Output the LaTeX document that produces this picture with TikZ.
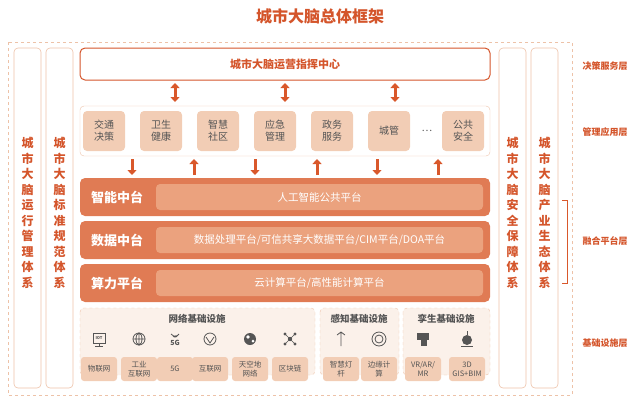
\documentclass[tikz,border=0pt]{standalone}
\usepackage{fontspec}
\setmainfont{Noto Sans CJK SC}
\begin{document}
\begin{tikzpicture}[x=1pt,y=-1pt,
  every node/.style={inner sep=0pt,align=center},
  tcol/.style={text=ora,font=\bfseries},
  colbox/.style={draw=bord,line width=0.6pt,rounded corners=4pt},
  appitem/.style={fill=appf,rounded corners=4pt,minimum width=42pt,minimum height=40pt,font=\fontsize{10}{12}\selectfont,text=gtext},
  band/.style={fill=bandc,rounded corners=5pt},
  inner/.style={fill=innc,rounded corners=4pt,text=white,font=\fontsize{10.5}{12}\selectfont},
  panel/.style={draw=bord,dashed,fill=panf,rounded corners=4pt},
  lab/.style={fill=appf,rounded corners=3pt,minimum width=36pt,minimum height=24pt,font=\fontsize{7.5}{9}\selectfont,text=gtext},
  ico/.style={draw=gtext,line width=0.8pt},
  barr/.style={line width=3pt,draw=arrc,-{Triangle[length=5pt,width=9pt]}},
  darr/.style={line width=3pt,draw=arrc,{Triangle[length=5pt,width=9pt]}-{Triangle[length=5pt,width=9pt]}}]
\definecolor{ora}{HTML}{D4552B}
\definecolor{bord}{HTML}{EDC2A8}
\definecolor{appf}{HTML}{F2CDB5}
\definecolor{bandc}{HTML}{E07B54}
\definecolor{innc}{HTML}{EBA27E}
\definecolor{panf}{HTML}{FBF1EA}
\definecolor{gtext}{HTML}{555555}
\definecolor{arrc}{HTML}{D9582B}
\usetikzlibrary{arrows.meta}
\useasboundingbox (0,0) rectangle (640,400);
\node[tcol,font=\fontsize{16}{18}\selectfont\bfseries] (title) at (320,16) {城市大脑总体框架};
\draw[bord,dashed] (8,42) rectangle (572,395);
% side columns
\foreach \x/\t/\n in {14/城\\市\\大\\脑\\运\\行\\管\\理\\体\\系/c1,46/城\\市\\大\\脑\\标\\准\\规\\范\\体\\系/c2,499/城\\市\\大\\脑\\安\\全\\保\\障\\体\\系/c3,531/城\\市\\大\\脑\\产\\业\\生\\态\\体\\系/c4}{
  \draw[colbox] (\x,48) rectangle (\x+27,388);
  \node[text=ora,font=\fontsize{12}{15.5}\selectfont\bfseries] (\n) at (\x+13.5,213) {\t};
}
% right labels
\node[tcol,font=\fontsize{9}{11}\selectfont\bfseries] (l1) at (605,66) {决策服务层};
\node[tcol,font=\fontsize{9}{11}\selectfont\bfseries] (l2) at (605,132) {管理应用层};
\node[tcol,font=\fontsize{9}{11}\selectfont\bfseries] (l3) at (605,241) {融合平台层};
\node[tcol,font=\fontsize{9}{11}\selectfont\bfseries] (l4) at (605,343) {基础设施层};
\draw[arrc,line width=0.8pt] (562,200) -- (567,200) -- (567,283) -- (562,283);
% top
\node[draw=ora,line width=1pt,rounded corners=5pt,minimum width=410pt,minimum height=32pt,tcol,font=\fontsize{11}{13}\selectfont\bfseries] (top) at (285,64) {城市大脑运营指挥中心};
\node[draw=bord,rounded corners=4pt,minimum width=410pt,minimum height=50pt] (apps) at (285,131) {};
\foreach \x in {175,285,395}{\draw[darr] (\x,83) -- (\x,102);}
\foreach \x/\t/\n in {104/交通\\决策/a1,161/卫生\\健康/a2,218/智慧\\社区/a3,275/应急\\管理/a4,332/政务\\服务/a5,389/城管/a6,463/公共\\安全/a7}{
  \node[appitem] (\n) at (\x,131) {\t};}
\node[text=gtext] (dots) at (427,131) {…};
\foreach \x in {132,255,377}{\draw[barr] (\x,159) -- (\x,175);}
\foreach \x in {194,317,438}{\draw[barr] (\x,175) -- (\x,159);}
% platforms
\foreach \ya/\yb/\t/\s/\n in {178/216/智能中台/人工智能公共平台/p1,221/259/数据中台/{数据处理平台/可信共享大数据平台/CIM平台/DOA平台}/p2,264/302/算力平台/{云计算平台/高性能计算平台}/p3}{
  \fill[band] (80,\ya) rectangle (490,\yb);
  \node[text=white,font=\fontsize{13}{15}\selectfont\bfseries] (\n) at (117,{(\ya+\yb)/2}) {\t};
  \node[inner,minimum width=327pt,minimum height={\yb-\ya-12}] (\n i) at (319.5,{(\ya+\yb)/2}) {\s};
}
% infra panels
\draw[panel] (80,308) rectangle (315,375);
\draw[panel] (320,308) rectangle (399,375);
\draw[panel] (403,308) rectangle (490,375);
\node[font=\fontsize{9.5}{11}\selectfont\bfseries,text=gtext] (h1) at (197,319) {网络基础设施};
\node[font=\fontsize{9.5}{11}\selectfont\bfseries,text=gtext] (h2) at (359,319) {感知基础设施};
\node[font=\fontsize{9.5}{11}\selectfont\bfseries,text=gtext] (h3) at (446,319) {孪生基础设施};
\foreach \x/\t/\n in {99/物联网/b1,139/工业\\互联网/b2,175/5G/b3,210/互联网/b4,250/天空地\\网络/b5,290/区块链/b6,341/智慧灯\\杆/b7,379/边缘计\\算/b8,423/{VR/AR/\\MR}/b9,467/3D\\GIS+BIM/b10}{
  \node[lab] (\n) at (\x,369) {\t};}
% icons
\draw[ico] (93,333) rectangle (105,343); \draw[ico] (99,343) -- (99,346) (95,346)--(103,346);
\node[font=\fontsize{4}{4}\selectfont\bfseries,text=gtext] (i1) at (99,338) {IOT};
\draw[ico] (139,339) circle (6); \draw[ico] (133,339)--(145,339) (139,333)--(139,345) (139,339) ellipse (3 and 6);
\node[font=\scriptsize\bfseries\itshape,text=gtext] (i3) at (175,343) {5G};
\draw[ico] (171,334) arc (150:30:4.6) (173,336) arc (150:30:2.3);
\draw[ico] (210,339) circle (6); \draw[ico] (206,337) -- (210,343) -- (214,337);
\fill[gtext] (250,339) circle (6); \fill[white] (248,337) circle (1.8) (253,341) circle (1.5);
\fill[gtext] (290,339) circle (2.2) (285,334) circle (1.6) (295,334) circle (1.6) (285,344) circle (1.6) (295,344) circle (1.6);
\draw[gtext,line width=0.6pt] (285,334)--(295,344) (295,334)--(285,344);
\draw[ico] (341,346) -- (341,332) (337,335) -- (341,332) -- (345,335);
\draw[ico] (379,339) circle (7); \draw[ico] (379,339) circle (4);
\fill[gtext] (417,333) rectangle (429,340); \fill[gtext] (421,340) rectangle (427,346);
\fill[gtext] (467,340) circle (5); \draw[ico] (467,335)--(467,331) (461,346)--(473,346);
\end{tikzpicture}
\end{document}
